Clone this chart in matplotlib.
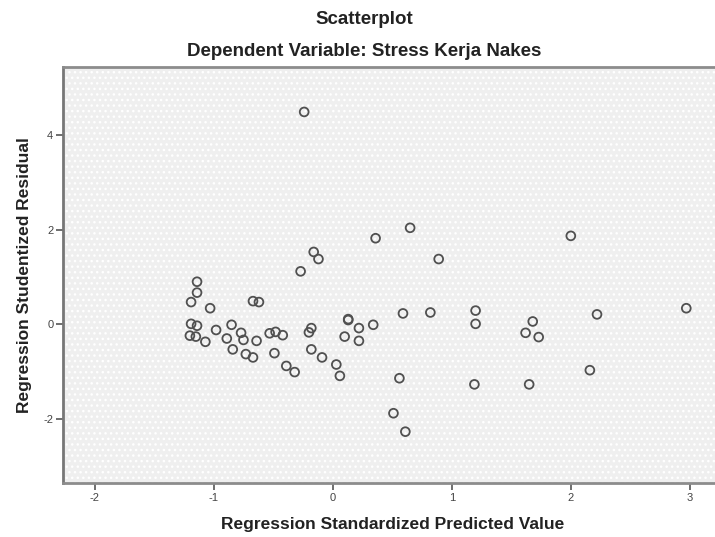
import matplotlib
matplotlib.use("Agg")
import matplotlib.pyplot as plt
from matplotlib.patches import Rectangle

plt.rcParams['font.family'] = ['Liberation Sans', 'DejaVu Sans']
plt.rcParams['hatch.color'] = 'white'
plt.rcParams['hatch.linewidth'] = 1.0

title = "Scatterplot"
subtitle = "Dependent Variable: Stress Kerja Nakes"
x_label = "Regression Standardized Predicted Value"
y_label = "Regression Studentized Residual"

predicted = [-1.14, -1.14, -1.19, -1.03, -1.19, -1.14, -1.20, -1.15, -1.07, -0.98,
             -0.85, -0.89, -0.77, -0.75, -0.64, -0.84, -0.73, -0.67, -0.67, -0.62,
             -0.53, -0.48, -0.42, -0.49, -0.39, -0.32, -0.27, -0.24, -0.16, -0.12,
             -0.18, -0.20, -0.18, -0.09, 0.03, 0.06, 0.13, 0.13, 0.22, 0.34,
             0.10, 0.22, 0.36, 0.65, 0.89, 0.59, 0.82, 0.56, 0.51, 0.61,
             1.20, 1.20, 1.19, 1.68, 1.62, 1.73, 1.65, 2.00, 2.22, 2.16, 2.97]
residual = [0.90, 0.67, 0.47, 0.34, 0.01, -0.03, -0.24, -0.26, -0.37, -0.12,
            -0.01, -0.30, -0.18, -0.33, -0.35, -0.53, -0.63, -0.70, 0.49, 0.47,
            -0.19, -0.16, -0.23, -0.61, -0.88, -1.01, 1.12, 4.49, 1.53, 1.38,
            -0.08, -0.17, -0.53, -0.70, -0.85, -1.09, 0.11, 0.09, -0.08, -0.01,
            -0.26, -0.35, 1.82, 2.04, 1.38, 0.23, 0.25, -1.14, -1.88, -2.27,
            0.29, 0.01, -1.27, 0.06, -0.18, -0.27, -1.27, 1.87, 0.21, -0.97, 0.34]

x_ticks = [-2, -1, 0, 1, 2, 3]
y_ticks = [-2, 0, 2, 4]

fig = plt.figure(figsize=(7.15, 5.37), dpi=100)
ax = fig.add_axes([63/715, 1-483/537, (722-63)/715, (483-67)/537])
ax.set_xlim(-2.266, 3.27)
ax.set_ylim(-3.355, 5.44)

ax.set_facecolor('#efefef')
bg = Rectangle((0, 0), 1, 1, transform=ax.transAxes, facecolor='#efefef',
               edgecolor='white', hatch='...', linewidth=0, zorder=0)
ax.add_patch(bg)

ax.scatter(predicted, residual, s=40, facecolors='none', edgecolors='#505050',
           linewidths=1.3, zorder=3)

ax.set_xticks(x_ticks)
ax.set_xticklabels([str(v) for v in x_ticks])
ax.set_yticks(y_ticks)
ax.set_yticklabels([str(v) for v in y_ticks])
ax.tick_params(axis='both', direction='out', length=5, width=1.2, color='#555555',
               labelsize=8, labelcolor='#444444', pad=2)

for side in ['top', 'bottom', 'left', 'right']:
    ax.spines[side].set_color('#8c8c8c')
    ax.spines[side].set_linewidth(2.0)
ax.spines['left'].set_color('#777777')

ax.set_xlabel(x_label, fontsize=12.5, fontweight='bold', color='#222222', labelpad=10)
ax.set_ylabel(y_label, fontsize=12.5, fontweight='bold', color='#222222', labelpad=8)

fig.text(0.509, 1-20/537, title, ha='center', va='center', fontsize=13.5,
         fontweight='bold', color='#222222')
fig.text(0.509, 1-52/537, subtitle, ha='center', va='center', fontsize=13.5,
         fontweight='bold', color='#222222')

fig.savefig("out.png", dpi=100, facecolor='white')
